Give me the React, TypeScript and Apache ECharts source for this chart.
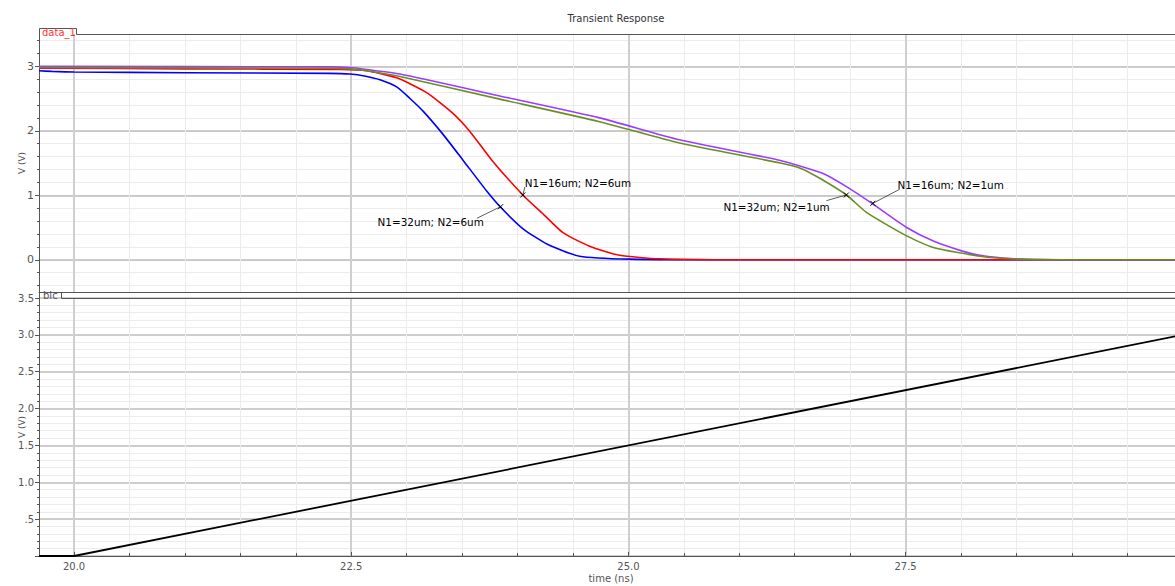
import React, { useEffect, useRef } from "react";
import * as echarts from "echarts";

const XMIN = 19.684;
const XMAX = 29.93;
const X_MAJOR = [20, 22.5, 25, 27.5];
const X_MINOR = [20, 20.5, 21, 21.5, 22, 22.5, 23, 23.5, 24, 24.5, 25, 25.5, 26, 26.5, 27, 27.5, 28, 28.5, 29, 29.5];
const Y1_MAJOR = [0, 1, 2, 3];
const Y1_MINOR = [-0.4, -0.2, 0, 0.2, 0.4, 0.6, 0.8, 1, 1.2, 1.4, 1.6, 1.8, 2, 2.2, 2.4, 2.6, 2.8, 3, 3.2, 3.4];

const BLUE = [
  [19.684, 2.93], [19.8, 2.92], [20.0, 2.91], [21.0, 2.9], [22.3, 2.89], [22.49, 2.88], [22.62, 2.85],
  [22.76, 2.79], [22.91, 2.68], [23.03, 2.5], [23.15, 2.3], [23.33, 1.94], [23.51, 1.54], [23.72, 1.07],
  [23.85, 0.81], [24.05, 0.48], [24.27, 0.24], [24.56, 0.055], [25.01, 0.01], [26, 0], [30, 0],
];
const RED = [
  [19.684, 2.97], [21, 2.96], [22.4, 2.95], [22.64, 2.93], [22.91, 2.82], [23.18, 2.59], [23.41, 2.28],
  [23.57, 1.99], [23.77, 1.54], [24.05, 1.0], [24.23, 0.71], [24.41, 0.42], [24.65, 0.21], [24.92, 0.07],
  [25.28, 0.015], [26, 0], [30, 0],
];
const PURPLE = [
  [19.684, 3.0], [22.3, 2.99], [22.49, 2.98], [22.64, 2.95], [22.94, 2.88], [23.84, 2.54], [24.74, 2.2],
  [25.46, 1.86], [26.37, 1.54], [26.75, 1.34], [26.97, 1.13], [27.2, 0.87], [27.51, 0.5], [27.75, 0.29],
  [28.02, 0.13], [28.17, 0.07], [28.44, 0.02], [28.98, 0], [30, 0],
];
const GREEN = [
  [19.684, 2.98], [22.3, 2.97], [22.49, 2.96], [22.64, 2.93], [22.94, 2.84], [23.84, 2.49], [24.74, 2.14],
  [25.46, 1.81], [26.37, 1.5], [26.55, 1.42], [26.73, 1.26], [26.97, 1.0], [27.15, 0.73], [27.51, 0.37],
  [27.75, 0.19], [28.17, 0.055], [28.53, 0.01], [29.03, 0], [30, 0],
];
const RAMP = [[19.684, 0], [20, 0], [30, 3.0]];

const ANN_TEXT = ["N1=16um; N2=6um", "N1=32um; N2=6um", "N1=32um; N2=1um", "N1=16um; N2=1um"];
const ANN_MARK = [[24.048, 1.004], [23.847, 0.822], [26.966, 1.004], [27.205, 0.875]];
const ANN_LEAD = [[24.066, 1.128], [23.633, 0.643], [26.786, 0.916], [27.446, 1.092]];
const ANN_POS = [[24.066, 1.19], [23.696, 0.585], [26.815, 0.818], [27.428, 1.155]];
const ANN_ALIGN = ["left", "right", "right", "left"];

const FONT = "DejaVu Sans";
const AXIS = "#555";
const MAJ = "#bdbdbd";
const MIN = "#ececec";

export default function App() {
  const ref = useRef<HTMLDivElement>(null);
  useEffect(() => {
    const chart = echarts.init(ref.current!, null, { renderer: "svg" });
    const minorX = (g: number) => ({
      gridIndex: g, type: "value", min: XMIN, max: XMAX, position: "bottom",
      axisLine: { show: false, onZero: false },
      axisTick: { show: g === 1, inside: true, length: 3, customValues: X_MINOR, lineStyle: { color: AXIS } },
      axisLabel: { show: false, customValues: X_MINOR },
      splitLine: { show: true, lineStyle: { color: MIN, width: 1 } },
    });
    const majorX = (g: number) => ({
      gridIndex: g, type: "value", min: XMIN, max: XMAX, position: "bottom",
      axisLine: { show: true, onZero: false, lineStyle: { color: AXIS, width: 1 } },
      axisTick: { show: g === 1, inside: true, length: 4, customValues: X_MAJOR, lineStyle: { color: AXIS } },
      axisLabel: {
        show: g === 1, customValues: X_MAJOR, color: AXIS, fontSize: 10, fontFamily: FONT, margin: 5,
        formatter: (v: number) => v.toFixed(1),
      },
      splitLine: { show: true, lineStyle: { color: "#cfcfcf", width: 2 } },
    });
    chart.setOption({
      animation: false,
      backgroundColor: "#fff",
      title: {
        text: "Transient Response", left: 611, top: 8, textAlign: "center",
        textStyle: { fontSize: 10, fontWeight: "normal", color: "#333", fontFamily: FONT },
      },
      grid: [
        { left: 39, top: 34, right: 0, height: 258, containLabel: false, outerBoundsMode: "none" },
        { left: 39, top: 298, right: 0, height: 258, containLabel: false, outerBoundsMode: "none" },
      ],
      xAxis: [minorX(0), majorX(0), minorX(1), majorX(1)],
      yAxis: [
        {
          gridIndex: 0, type: "value", min: -0.5, max: 3.5, position: "left",
          axisLine: { show: false, onZero: false },
          axisTick: { show: true, length: 2, customValues: Y1_MINOR, lineStyle: { color: AXIS } },
          axisLabel: { show: false, customValues: Y1_MINOR },
          splitLine: { show: true, lineStyle: { color: MIN } },
        },
        {
          gridIndex: 0, type: "value", min: -0.5, max: 3.5, position: "left",
          axisLine: { show: true, onZero: false, lineStyle: { color: AXIS } },
          axisTick: { show: true, length: 4, customValues: Y1_MAJOR, lineStyle: { color: AXIS } },
          axisLabel: { show: true, customValues: Y1_MAJOR, color: AXIS, fontSize: 11, fontFamily: FONT, margin: 5 },
          splitLine: { show: true, lineStyle: { color: MAJ, width: 1.5 } },
        },
        {
          gridIndex: 1, type: "value", min: 0, max: 3.5, interval: 0.5, position: "left",
          axisLine: { show: true, onZero: false, lineStyle: { color: AXIS } },
          axisTick: { show: true, length: 4, lineStyle: { color: AXIS } },
          minorTick: { show: true, splitNumber: 5, length: 2, lineStyle: { color: AXIS } },
          minorSplitLine: { show: true, lineStyle: { color: MIN } },
          axisLabel: {
            color: AXIS, fontSize: 10, fontFamily: FONT, margin: 5,
            formatter: (v: number) => (v === 0 ? "" : v === 0.5 ? ".5" : v.toFixed(1)),
          },
          splitLine: { show: true, lineStyle: { color: MAJ, width: 1.5 } },
        },
      ],
      series: [
        { name: "N1=32um; N2=6um", type: "line", xAxisIndex: 1, yAxisIndex: 1, data: BLUE, showSymbol: false, smooth: 0.2, lineStyle: { color: "#0000ff", width: 1.6 } },
        { name: "N1=16um; N2=6um", type: "line", xAxisIndex: 1, yAxisIndex: 1, data: RED, showSymbol: false, smooth: 0.2, lineStyle: { color: "#ff0000", width: 1.6 } },
        { name: "N1=16um; N2=1um", type: "line", xAxisIndex: 1, yAxisIndex: 1, data: PURPLE, showSymbol: false, smooth: 0.2, lineStyle: { color: "#9b3cff", width: 1.6 } },
        { name: "N1=32um; N2=1um", type: "line", xAxisIndex: 1, yAxisIndex: 1, data: GREEN, showSymbol: false, smooth: 0.2, lineStyle: { color: "#6b8e23", width: 1.6 } },
        { name: "blc", type: "line", xAxisIndex: 3, yAxisIndex: 2, data: RAMP, showSymbol: false, lineStyle: { color: "#000", width: 1.8 } },
      ],
    });

    const px = (p: number[]) => chart.convertToPixel({ xAxisIndex: 1, yAxisIndex: 1 }, p) as number[];
    const graphics: any[] = [
      { type: "polyline", silent: true, shape: { points: [[39.5, 34], [39.5, 28.5], [76.5, 28.5], [76.5, 34.5], [1175, 34.5]] }, style: { stroke: AXIS, fill: null, lineWidth: 1 } },
      { type: "text", silent: true, x: 42, y: 32, style: { text: "data_1", fill: "#ff3333", font: `10px "${FONT}"`, verticalAlign: "middle" } },
      { type: "polyline", silent: true, shape: { points: [[39.5, 291], [39.5, 299]] }, style: { stroke: AXIS, fill: null, lineWidth: 1 } },
      { type: "polyline", silent: true, shape: { points: [[61.5, 292], [61.5, 298.5], [1175, 298.5]] }, style: { stroke: AXIS, fill: null, lineWidth: 1 } },
      { type: "text", silent: true, x: 43, y: 295.5, style: { text: "blc", fill: "#555", font: `10px "${FONT}"`, verticalAlign: "middle" } },
      { type: "text", silent: true, x: 22, y: 163, rotation: Math.PI / 2, style: { text: "V (V)", fill: AXIS, font: `9px "${FONT}"`, align: "center", verticalAlign: "middle" } },
      { type: "text", silent: true, x: 22, y: 427, rotation: Math.PI / 2, style: { text: "V (V)", fill: AXIS, font: `9px "${FONT}"`, align: "center", verticalAlign: "middle" } },
    ];
    ANN_TEXT.forEach((t, i) => {
      const m = px(ANN_MARK[i]);
      const l = px(ANN_LEAD[i]);
      const p = px(ANN_POS[i]);
      graphics.push({ type: "line", silent: true, z: 10, shape: { x1: m[0], y1: m[1], x2: l[0], y2: l[1] }, style: { stroke: "#333", lineWidth: 0.8 } });
      graphics.push({ type: "line", silent: true, z: 10, shape: { x1: m[0] - 2.5, y1: m[1] - 2.5, x2: m[0] + 2.5, y2: m[1] + 2.5 }, style: { stroke: "#000", lineWidth: 1 } });
      graphics.push({ type: "line", silent: true, z: 10, shape: { x1: m[0] - 2.5, y1: m[1] + 2.5, x2: m[0] + 2.5, y2: m[1] - 2.5 }, style: { stroke: "#000", lineWidth: 1 } });
      graphics.push({ type: "text", silent: true, z: 10, x: p[0], y: p[1], style: { text: t, fill: "#000", font: `10.4px "${FONT}"`, align: ANN_ALIGN[i], verticalAlign: "middle" } });
    });
    graphics.push({ type: "text", silent: true, x: 611, y: 573, style: { text: "time (ns)", fill: AXIS, font: `10px "${FONT}"`, align: "center", verticalAlign: "top" } });
    chart.setOption({ graphic: graphics });
    return () => chart.dispose();
  }, []);
  return <div ref={ref} style={{ position: "fixed", left: 0, top: 0, width: 1175, height: 586, background: "#fff" }} />;
}
